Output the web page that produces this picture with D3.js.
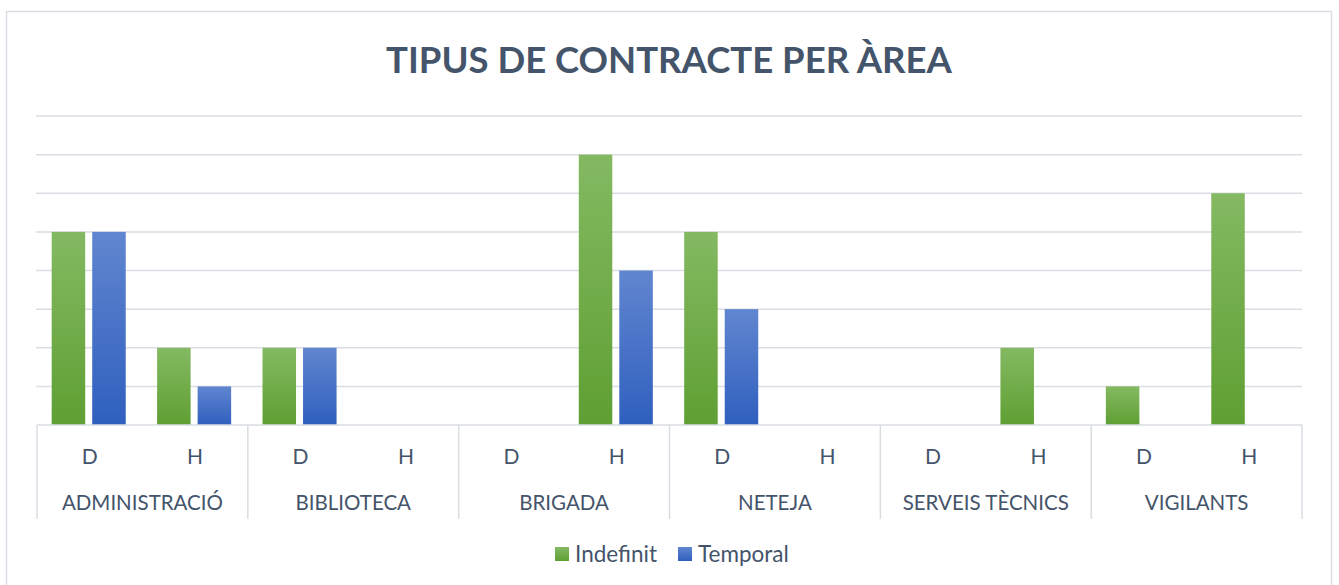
<!DOCTYPE html>
<meta charset="utf-8">
<style>
body { margin: 0; background: #fff; }
text { font-family: Lato, "Open Sans", sans-serif; fill: #44546a; }
.grid line { stroke: #d9dde3; stroke-width: 1.5px; }
</style>
<svg width="1339" height="585"></svg>
<script src="https://cdn.jsdelivr.net/npm/d3@7"></script>
<script>

var areas = ["ADMINISTRACIÓ", "BIBLIOTECA", "BRIGADA", "NETEJA", "SERVEIS TÈCNICS", "VIGILANTS"];
var sexes = ["D", "H"];
var series = ["Indefinit", "Temporal"];
// values per area, in D,H order
var indefinit = [[5, 2], [2, 0], [0, 7], [5, 0], [0, 2], [1, 6]];
var temporal  = [[5, 1], [2, 0], [0, 4], [3, 0], [0, 0], [0, 0]];
var yTicks = [1, 2, 3, 4, 5, 6, 7, 8];

var svg = d3.select("svg");

var plotLeft = 37, plotRight = 1302, plotTop = 116, plotBase = 425;

// frame
svg.append("rect")
    .attr("x", 6.5).attr("y", 11.5)
    .attr("width", 1325).attr("height", 600)
    .attr("fill", "none")
    .attr("stroke", "#d9dde3")
    .attr("stroke-width", 1.5);

var defs = svg.append("defs");
function grad(id, c1, c2) {
  var g = defs.append("linearGradient")
      .attr("id", id).attr("x1", 0).attr("y1", 0).attr("x2", 0).attr("y2", 1);
  g.append("stop").attr("offset", "0%").attr("stop-color", c1);
  g.append("stop").attr("offset", "100%").attr("stop-color", c2);
}
grad("gIndef", "#84b962", "#5f9f33");
grad("gTemp", "#6186d0", "#2f5fbe");
var fills = {"Indefinit": "url(#gIndef)", "Temporal": "url(#gTemp)"};

svg.append("text")
    .attr("x", 669).attr("y", 73)
    .attr("text-anchor", "middle")
    .style("font-size", "36.5px")
    .style("font-weight", "bold")
    .text("TIPUS DE CONTRACTE PER ÀREA");

var x0 = d3.scaleBand().domain(areas).range([plotLeft, plotRight]);
var x1 = d3.scaleBand().domain(sexes).range([0, x0.bandwidth()]);
var x2 = d3.scaleBand().domain(series).range([0, x1.bandwidth()])
    .paddingInner(0.173).paddingOuter(0.387);
var y = d3.scaleLinear().domain([0, 8]).range([plotBase, plotTop]);

svg.append("g").attr("class", "grid")
  .selectAll("line")
  .data(yTicks)
  .enter().append("line")
    .attr("x1", plotLeft - 1).attr("x2", plotRight)
    .attr("y1", function(d) { return y(d); })
    .attr("y2", function(d) { return y(d); });

// flatten data
var rows = [];
areas.forEach(function(a, i) {
  sexes.forEach(function(s, j) {
    rows.push({area: a, sex: s, serie: "Indefinit", value: indefinit[i][j]});
    rows.push({area: a, sex: s, serie: "Temporal", value: temporal[i][j]});
  });
});

svg.append("g").selectAll("rect")
  .data(rows.filter(function(d) { return d.value > 0; }))
  .enter().append("rect")
    .attr("x", function(d) { return x0(d.area) + x1(d.sex) + x2(d.serie) - 1; })
    .attr("width", x2.bandwidth())
    .attr("y", function(d) { return y(d.value); })
    .attr("height", function(d) { return y(0) - y(d.value); })
    .attr("fill", function(d) { return fills[d.serie]; });

// category axis
var axis = svg.append("g");
axis.append("line")
    .attr("x1", plotLeft).attr("x2", plotRight)
    .attr("y1", plotBase).attr("y2", plotBase)
    .attr("stroke", "#d9dde3").attr("stroke-width", 1.5);

var bounds = areas.map(function(a) { return x0(a); }).concat([plotRight]);
axis.selectAll(".sep")
  .data(bounds)
  .enter().append("line")
    .attr("x1", function(d) { return d; }).attr("x2", function(d) { return d; })
    .attr("y1", plotBase).attr("y2", 519)
    .attr("stroke", "#d9dde3").attr("stroke-width", 1.5);

areas.forEach(function(a) {
  axis.selectAll(null)
    .data(sexes)
    .enter().append("text")
      .attr("x", function(s) { return x0(a) + x1(s) + x1.bandwidth() / 2; })
      .attr("y", 464)
      .attr("text-anchor", "middle")
      .style("font-size", "21px")
      .text(function(s) { return s; });
});

axis.selectAll(".grp")
  .data(areas)
  .enter().append("text")
    .attr("x", function(a) { return x0(a) + x0.bandwidth() / 2; })
    .attr("y", 510)
    .attr("text-anchor", "middle")
    .style("font-size", "20.5px")
    .text(function(a) { return a; });

// legend
var legend = svg.append("g");
var lx = [555, 678];
series.forEach(function(s, i) {
  legend.append("rect")
      .attr("x", lx[i]).attr("y", 547)
      .attr("width", 14).attr("height", 14)
      .attr("fill", fills[s]);
  legend.append("text")
      .attr("x", lx[i] + 20).attr("y", 562)
      .style("font-size", "22.5px")
      .text(s);
});
</script>
